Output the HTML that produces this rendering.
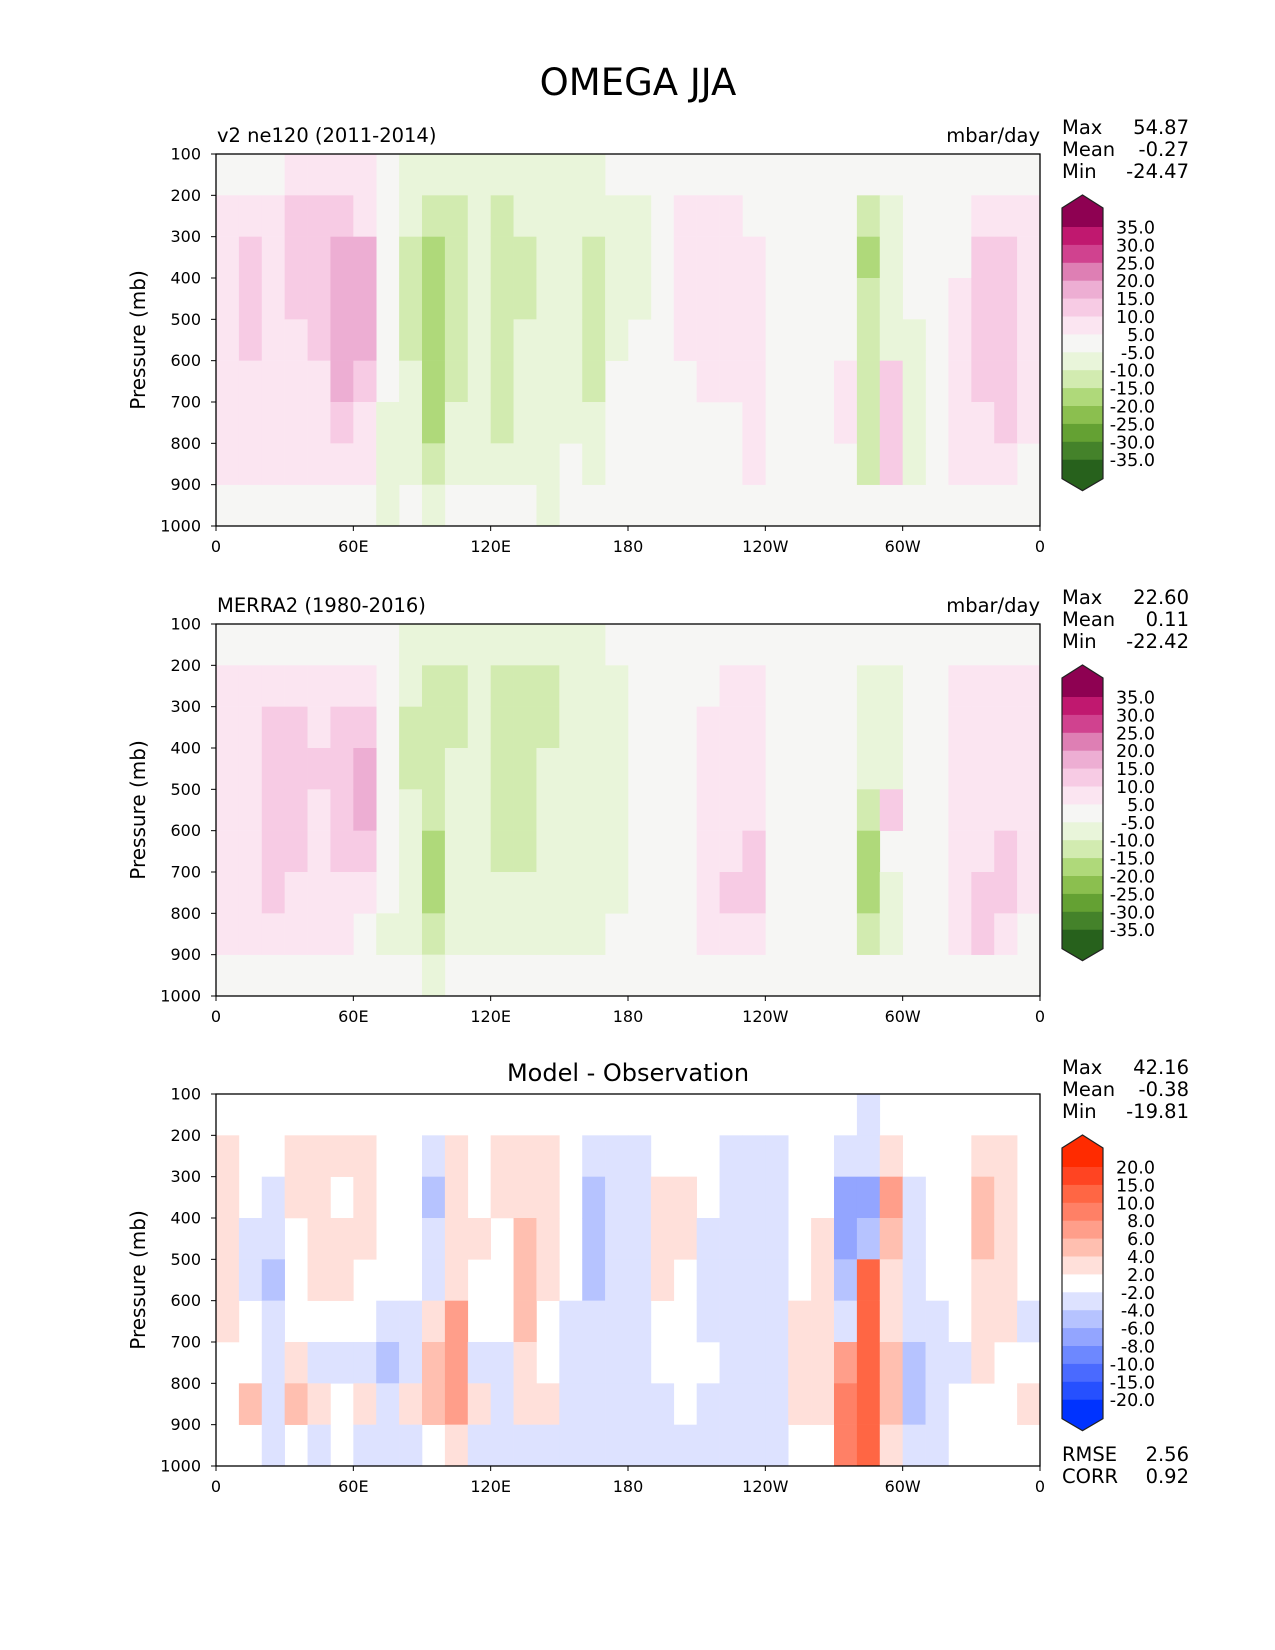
<!DOCTYPE html>
<html><head><meta charset="utf-8"><style>
html,body{margin:0;padding:0;background:#fff}
svg{display:block;font-family:"DejaVu Sans","Liberation Sans",sans-serif}
</style></head><body>
<svg id="fig" width="1275" height="1650" viewBox="0 0 1275 1650" xmlns="http://www.w3.org/2000/svg">
<text x="638" y="95" text-anchor="middle" font-size="37" fill="#000">OMEGA JJA</text>
</svg>
<script>
// ---- data ----
const lonCenters = [5,15,25,35,45,55,65,75,85,95,105,115,125,135,145,155,165,175,185,195,205,215,225,235,245,255,265,275,285,295,305,315,325,335,345,355];
const presLevels = [150,250,350,450,550,650,750,850,950];
const xTickVals = [0,60,120,180,240,300,360];
const xTickLabels = ["0","60E","120E","180","120W","60W","0"];
const yTickVals = [100,200,300,400,500,600,700,800,900,1000];
const piygLevels = [-35,-30,-25,-20,-15,-10,-5,5,10,15,20,25,30,35];
const diffLevels = [-20,-15,-10,-8,-6,-4,-2,2,4,6,8,10,15,20];
const piygColors = ["#27611c","#44822a","#64a133","#8bbf4f","#afd97a","#d2ebb0","#e9f5da","#f6f6f4","#fbe5f1","#f7cbe4","#edaed3","#de7fb4","#d0428f","#c0186f","#8e0152"];
const diffColors = ["#0033ff","#2650ff","#4a6aff","#6d88ff","#93a5ff","#b6c3ff","#dde2ff","#ffffff","#ffe0da","#ffbfb0","#ff9e8a","#ff8066","#ff6644","#ff4422","#ff2b00"];
const modelField = [
[0,7,7,7,7,7,7,7,0],[0,8,10,12,10,8,8,8,0],[0,8,8,8,8,8,8,8,4],[6,12,12,12,8,8,8,8,0],
[6,12,12,12,12,8,8,8,0],[6,12,18,18,18,18,12,8,0],[6,8,18,18,18,12,8,7,0],[0,0,0,0,0,0,-6,-6,-6],
[-6,-7,-12,-12,-12,-7,-7,-7,0],[-6,-12,-17,-17,-17,-17,-17,-12,-6],[-6,-12,-12,-12,-12,-12,-7,-7,0],[-6,-7,-7,-7,-7,-7,-7,-7,0],
[-6,-12,-12,-12,-12,-12,-12,-7,0],[-6,-7,-12,-12,-7,-7,-7,-7,0],[-6,-7,-7,-7,-7,-7,-7,-7,-6],[-6,-7,-7,-7,-7,-7,-6,0,0],
[-6,-7,-12,-12,-12,-12,-7,-7,0],[0,-7,-7,-7,-7,0,0,0,0],[0,-6,-6,-6,0,0,0,0,0],[0,0,0,0,0,0,0,0,0],
[0,7,7,7,7,0,0,0,0],[0,7,7,7,7,7,0,0,0],[0,7,7,7,7,7,0,0,0],[0,0,7,7,7,7,7,7,0],
[0,0,0,0,0,0,0,0,0],[0,0,0,0,0,0,0,0,0],[0,0,0,0,0,0,0,0,0],[0,0,0,0,0,6,6,0,0],
[0,-12,-17,-12,-12,-12,-12,-12,0],[0,-7,-7,-7,-7,12,12,12,0],[0,0,0,0,-6,-6,-6,-6,0],[0,0,0,0,0,0,0,0,0],
[0,0,0,6,6,6,6,6,0],[0,8,12,12,12,12,8,8,0],[0,8,12,12,12,12,12,8,0],[0,7,7,7,7,7,7,0,0]];
const obsField = [
[0,7,7,7,7,7,7,7,0],[0,7,7,7,7,7,7,7,0],[0,7,12,12,12,12,12,7,0],[0,7,12,12,12,12,7,7,0],
[0,7,7,12,7,7,7,7,0],[0,7,12,12,12,12,7,7,0],[0,7,12,18,18,12,7,0,0],[0,0,0,0,0,0,0,-6,0],
[-6,-7,-12,-12,-7,-7,-7,-7,0],[-6,-12,-12,-12,-12,-17,-17,-12,-6],[-6,-12,-12,-7,-7,-7,-7,-7,0],[-6,-7,-7,-7,-7,-7,-7,-7,0],
[-6,-12,-12,-12,-12,-12,-7,-7,0],[-6,-12,-12,-12,-12,-12,-7,-7,0],[-6,-12,-12,-7,-7,-7,-7,-7,0],[-6,-7,-7,-7,-7,-7,-7,-6,0],
[-6,-7,-7,-7,-7,-7,-7,-7,0],[0,-7,-7,-7,-7,-7,-7,0,0],[0,0,0,0,0,0,0,0,0],[0,0,0,0,0,0,0,0,0],
[0,0,0,0,0,0,0,0,0],[0,0,7,7,7,7,7,7,0],[0,7,7,7,7,7,12,7,0],[0,7,7,7,7,12,12,7,0],
[0,0,0,0,0,0,0,0,0],[0,0,0,0,0,0,0,0,0],[0,0,0,0,0,0,0,0,0],[0,0,0,0,0,0,0,0,0],
[0,-7,-7,-7,-12,-17,-17,-12,0],[0,-6,-6,-6,12,0,-6,-6,0],[0,0,0,0,0,0,0,0,0],[0,0,0,0,0,0,0,0,0],
[0,7,7,7,7,7,7,7,0],[0,7,7,7,7,7,12,12,0],[0,7,7,7,7,12,12,7,0],[0,7,7,7,7,7,7,0,0]];
const diffField = [
[0,3,3,3,3,3,0,0,0],[0,0,0,-3,-3,0,0,5,0],[0,0,-3,-3,-5,-3,-3,-3,-3],[0,3,3,0,0,0,3,5,0],
[0,3,3,3,3,0,-3,3,-3],[0,3,0,3,3,0,-3,0,0],[0,3,3,3,0,0,-3,3,-3],[0,0,0,0,0,-3,-5,-3,-3],
[0,0,0,0,0,-3,-3,3,-3],[0,-3,-5,-3,-3,3,5,5,0],[0,3,3,3,3,7,7,7,3],[0,0,0,3,0,0,-3,3,-3],
[0,3,3,0,0,0,-3,-3,-3],[0,3,3,5,5,5,3,3,-3],[0,3,3,3,3,0,0,3,-3],[0,0,0,0,0,-3,-3,-3,-3],
[0,-3,-5,-5,-5,-3,-3,-3,-3],[0,-3,-3,-3,-3,-3,-3,-3,-3],[0,-3,-3,-3,-3,-3,-3,-3,-3],[0,0,3,3,3,0,0,-3,-3],
[0,0,3,3,0,0,0,0,-3],[0,0,0,-3,-3,-3,0,-3,-3],[0,-3,-3,-3,-3,-3,-3,-3,-3],[0,-3,-3,-3,-3,-3,-3,-3,-3],
[0,-3,-3,-3,-3,-3,-3,-3,-3],[0,0,0,0,0,3,3,3,0],[0,0,0,3,3,3,3,3,0],[0,-3,-7,-7,-5,-3,7,9,9],
[-3,-3,-7,-5,10,12,12,12,12],[0,3,7,5,3,3,5,5,3],[0,0,-3,-3,-3,-3,-5,-5,-3],[0,0,0,0,0,-3,-3,-3,-3],
[0,0,0,0,0,0,-3,0,0],[0,3,5,5,3,3,3,0,0],[0,3,3,3,3,3,0,0,0],[0,0,0,0,0,-3,0,3,0]];
const panelTitles = ["v2 ne120 (2011-2014)","MERRA2 (1980-2016)","Model - Observation"];
const statMax = ["54.87","22.60","42.16"];
const statMean = ["-0.27","0.11","-0.38"];
const statMin = ["-24.47","-22.42","-19.81"];

// ---- layout ----
const NS="http://www.w3.org/2000/svg";
const svg=document.getElementById('fig');
const PL=216, PW=824, PH=372;
const tops=[154,624,1094];
function mk(tag,attrs,parent){const e=document.createElementNS(NS,tag);for(const k in attrs)e.setAttribute(k,attrs[k]);(parent||svg).appendChild(e);return e;}
function xS(lon){return PL+lon/360*PW;}
function yS(p,T){return T+(p-100)/900*PH;}
function colorFor(v,levels,colors){let i=0;while(i<levels.length&&v>=levels[i])i++;return colors[i];}

function drawPanel(k,field,levels,colors,bg){
  const T=tops[k];
  const g=mk('g',{});
  
  
  const bgR=mk('rect',{x:PL,y:T,width:PW,height:PH,fill:bg},g);
  
  
  const dlon=lonCenters[1]-lonCenters[0];
  for(let i=0;i<lonCenters.length;i++){
    for(let j=0;j<presLevels.length;j++){
      const v=field[i][j];
      const c=colorFor(v,levels,colors);
      if(c===bg||v===0)continue;
      const x0=xS(lonCenters[i]-dlon/2), x1=xS(lonCenters[i]+dlon/2);
      const y0=yS(presLevels[j]-50,T), y1=yS(presLevels[j]+50,T);
      const r=mk('rect',{x:x0.toFixed(2),y:y0.toFixed(2),width:(x1-x0+0.3).toFixed(2),height:(y1-y0+0.3).toFixed(2),fill:c},g);
      
      
    }
  }
  const fr=mk('rect',{x:PL,y:T,width:PW,height:PH,fill:'none',stroke:'#000','stroke-width':1.3},g);
  
  
  yTickVals.forEach(p=>{
    const y=yS(p,T);
    const t=mk('line',{x1:PL-5,x2:PL,y1:y,y2:y,stroke:'#000','stroke-width':1},g);
    
    
    const l=mk('text',{x:PL-15,y:y+5.5,'text-anchor':'end','font-size':16},g);
    l.textContent=p;
    
    
  });
  xTickVals.forEach((lon,i)=>{
    const x=xS(lon);
    const t=mk('line',{x1:x,x2:x,y1:T+PH,y2:T+PH+5,stroke:'#000','stroke-width':1},g);
    
    
    const l=mk('text',{x:x,y:T+PH+26,'text-anchor':'middle','font-size':16},g);
    l.textContent=xTickLabels[i];
    
    
  });
  const yt=mk('text',{x:0,y:0,'text-anchor':'middle','font-size':20,transform:`translate(145,${T+PH/2}) rotate(-90)`},g);
  yt.textContent='Pressure (mb)';
  
  
  if(k<2){
    const st=mk('text',{x:PL+1,y:T-12,'font-size':19.5},g);
    st.textContent=panelTitles[k];
    
    
    const un=mk('text',{x:PL+PW,y:T-12,'text-anchor':'end','font-size':19.5},g);
    un.textContent='mbar/day';
    
    
  } else {
    const st=mk('text',{x:PL+PW/2,y:T-13,'text-anchor':'middle','font-size':24},g);
    st.textContent=panelTitles[k];
    
    
  }
  [['Max',statMax[k],-20],['Mean',statMean[k],2],['Min',statMin[k],24]].forEach(s=>{
    const a=mk('text',{x:1062,y:T+s[2],'font-size':19.5},g);
    a.textContent=s[0];
    
    
    const b=mk('text',{x:1189,y:T+s[2],'text-anchor':'end','font-size':19.5},g);
    b.textContent=s[1];
    
    
  });
  const cg=mk('g',{},g);
  
  
  const cx0=1062, cx1=1103, b0=T+73, step=17.9, n=levels.length;
  const bEnd=b0+(n-1)*step;
  const topP=mk('path',{d:`M${cx0},${b0} L${cx0},${T+54} L${(cx0+cx1)/2},${T+41} L${cx1},${T+54} L${cx1},${b0} Z`,fill:colors[colors.length-1]},cg);
  
  
  for(let m=0;m<n-1;m++){
    const r=mk('rect',{x:cx0,y:(b0+m*step).toFixed(2),width:cx1-cx0,height:(step+0.4).toFixed(2),fill:colors[colors.length-2-m]},cg);
    
    
  }
  const botP=mk('path',{d:`M${cx0},${bEnd} L${cx0},${bEnd+19} L${(cx0+cx1)/2},${bEnd+31} L${cx1},${bEnd+19} L${cx1},${bEnd} Z`,fill:colors[0]},cg);
  
  
  const ol=mk('path',{d:`M${cx0},${bEnd+19} L${cx0},${T+54} L${(cx0+cx1)/2},${T+41} L${cx1},${T+54} L${cx1},${bEnd+19} L${(cx0+cx1)/2},${bEnd+31} Z`,fill:'none',stroke:'#222','stroke-width':1.2},cg);
  
  
  for(let m=0;m<n;m++){
    const v=levels[n-1-m];
    const l=mk('text',{x:1155,y:(b0+m*step+6.5).toFixed(2),'text-anchor':'end','font-size':17.5},cg);
    l.textContent=v.toFixed(1);
    
    
  }
}
drawPanel(0,modelField,piygLevels,piygColors,'#f6f6f4');
drawPanel(1,obsField,piygLevels,piygColors,'#f6f6f4');
drawPanel(2,diffField,diffLevels,diffColors,'#ffffff');
[['RMSE','2.56',1461],['CORR','0.92',1483]].forEach(s=>{
  const a=mk('text',{x:1062,y:s[2],'font-size':19.5});
  a.textContent=s[0];
  
  
  const b=mk('text',{x:1189,y:s[2],'text-anchor':'end','font-size':19.5});
  b.textContent=s[1];
  
  
});
</script>
</body></html>
